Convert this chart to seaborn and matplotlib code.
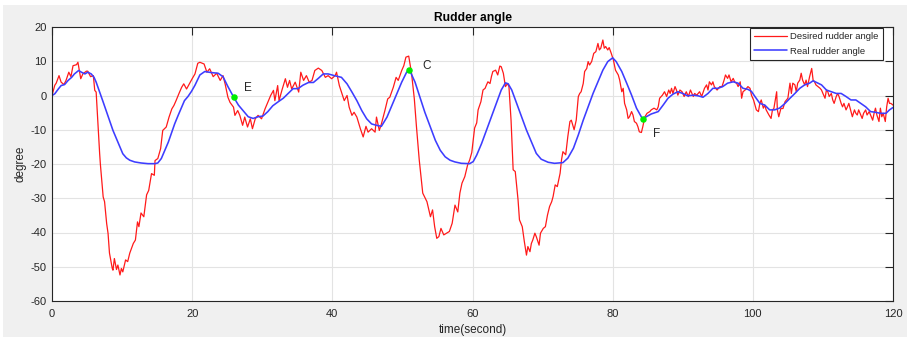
import matplotlib
matplotlib.use("Agg")
import matplotlib.pyplot as plt
from matplotlib.patches import Rectangle
import seaborn as sns
import pandas as pd

# desired rudder angle (red, noisy)
t_desired = [0, 0.4, 0.6, 1.0, 1.3, 1.7, 2.0, 2.4, 2.7, 3.0, 3.5, 3.7, 4.1, 4.4, 4.9, 5.1, 5.5, 5.9, 6.1, 6.3,
             6.6, 6.8, 6.9, 7.3, 7.5, 7.8, 8.0, 8.2, 8.6, 8.7, 8.9, 9.2, 9.4, 9.7, 9.9, 10.1, 10.5, 10.8, 11.1, 11.6,
             11.9, 12.2, 12.4, 12.7, 13.1, 13.5, 13.8, 14.2, 14.6, 14.7, 15.1, 15.5, 15.8, 16.3, 16.7, 17.1, 17.4, 17.7, 18.1, 18.5,
             18.8, 19.2, 19.6, 20.0, 20.4, 20.8, 21.1, 21.7, 22.1, 22.5, 23.0, 23.5, 24.0, 24.4, 24.7, 25.1, 25.4, 25.9, 26.1, 26.5,
             26.8, 27.2, 27.5, 27.9, 28.3, 28.6, 29.0, 29.4, 29.9, 30.4, 30.9, 31.2, 31.6, 31.8, 32.2, 32.4, 32.8, 33.3, 33.6, 33.9,
             34.2, 34.7, 35.2, 35.5, 35.9, 36.3, 36.7, 37.1, 37.5, 38.0, 38.5, 39.0, 39.4, 39.9, 40.4, 40.6, 41.0, 41.3, 41.7, 42.1,
             42.4, 42.8, 43.1, 43.5, 44.0, 44.4, 44.8, 45.1, 45.6, 46.1, 46.3, 46.7, 47.0, 47.5, 47.9, 48.2, 48.7, 49.1, 49.4, 49.9,
             50.2, 50.5, 50.9, 51.3, 51.7, 52.0, 52.4, 52.9, 53.5, 54.0, 54.3, 54.6, 54.9, 55.2, 55.5, 55.9, 56.3, 56.7, 57.1, 57.5,
             57.9, 58.2, 58.5, 58.9, 59.3, 59.6, 59.9, 60.1, 60.3, 60.6, 60.8, 61.2, 61.5, 61.8, 62.0, 62.2, 62.5, 62.7, 62.9, 63.3,
             63.6, 63.9, 64.1, 64.4, 64.7, 65.0, 65.2, 65.5, 65.8, 66.1, 66.5, 66.7, 67.1, 67.4, 67.7, 67.9, 68.2, 68.4, 68.6, 68.9,
             69.1, 69.5, 69.7, 70.1, 70.4, 70.7, 71.0, 71.3, 71.5, 71.8, 72.1, 72.5, 72.7, 72.9, 73.3, 73.6, 73.9, 74.1, 74.5, 74.8,
             75.1, 75.3, 75.5, 75.8, 76.0, 76.3, 76.5, 76.7, 77.0, 77.3, 77.6, 77.9, 78.1, 78.3, 78.6, 78.8, 79.0, 79.3, 79.5, 79.8,
             80.1, 80.4, 80.8, 81.0, 81.3, 81.5, 81.7, 82.0, 82.2, 82.4, 82.7, 82.9, 83.1, 83.4, 83.6, 83.8, 84.1, 84.3, 84.5, 84.6,
             84.9, 85.3, 85.5, 85.9, 86.3, 86.5, 86.7, 87.1, 87.4, 87.7, 88.0, 88.2, 88.4, 88.6, 88.9, 89.1, 89.3, 89.6, 89.9, 90.2,
             90.5, 90.8, 91.1, 91.5, 91.7, 92.0, 92.4, 92.7, 93.1, 93.4, 93.6, 93.8, 94.1, 94.3, 94.5, 94.9, 95.3, 95.6, 95.9, 96.1,
             96.4, 96.6, 96.9, 97.2, 97.4, 97.7, 97.9, 98.2, 98.4, 98.6, 98.9, 99.3, 99.6, 99.8, 100.1, 100.3, 100.5, 100.8, 101.0, 101.2,
             101.5, 101.7, 101.9, 102.3, 102.6, 102.8, 103.0, 103.4, 103.5, 103.7, 104.0, 104.3, 104.6, 104.8, 105.0, 105.3, 105.5, 105.7, 106.0, 106.2,
             106.4, 106.7, 106.9, 107.1, 107.4, 107.6, 107.8, 108.1, 108.4, 108.6, 108.8, 109.0, 109.3, 109.6, 109.8, 110.0, 110.3, 110.5, 110.7, 110.9,
             111.2, 111.4, 111.6, 111.9, 112.1, 112.3, 112.6, 112.8, 113.0, 113.3, 113.5, 113.7, 114.0, 114.2, 114.5, 114.7, 114.9, 115.1, 115.4, 115.6,
             115.8, 116.1, 116.3, 116.6, 116.8, 117.1, 117.3, 117.5, 117.7, 118.0, 118.2, 118.4, 118.6, 118.9, 119.1, 119.3, 119.5, 119.7, 120.0]
v_desired = [0, 3, 3.6, 5.8, 3.9, 3.2, 4.4, 6.8, 5.5, 8.7, 9.0, 9.7, 4.9, 6.3, 7.1, 7.1, 5.5, 5.8, 1.5, 1.0,
             -10, -17, -20, -29.6, -31, -37.4, -40.3, -46, -50.5, -51, -47.6, -50.8, -49.5, -52.4, -50.5, -51.5, -48, -48.5, -46, -43.2,
             -42.2, -36.9, -38.3, -34.3, -35.4, -29, -27.7, -22.8, -23.3, -19, -18.4, -15.5, -10.2, -9.2, -6.3, -3.9, -2.9, -1.5, 0.5, 2.4,
             3.4, 1.9, 3.4, 4.9, 6.3, 9.4, 9.7, 9.2, 6.8, 7.8, 5.5, 6.5, 4.4, 5.8, 3.4, -0.5, -2, -3.4, -5.8, -4.4,
             -5.8, -8.7, -6.3, -9.2, -6.8, -9.7, -6.8, -5.8, -6.8, -3.9, -1.5, 0, 1.5, -1.5, 2.9, -1.5, 1.5, 4.9, 2.4, 4.4,
             1.9, 3.9, 1.0, 6.8, 4.4, 5.8, 3.9, 4.4, 7.3, 8.0, 7.3, 5.3, 5.8, 4.9, 5.8, 6.8, 2.9, 1.0, -1.5, 0,
             -3.4, -5.8, -4.9, -6.3, -9.7, -12.1, -9.0, -10.7, -9.7, -10.7, -6.3, -10.2, -8.3, -4.4, -1.0, -0.5, 2.4, 5.3, 4.4, 7.3,
             8.7, 11.2, 11.5, 6.5, -1, -9, -18.8, -28.5, -31, -35.4, -33.4, -38.3, -41.7, -41.2, -38.8, -40.7, -40.2, -39.7, -37.3, -32,
             -34, -28.5, -25.6, -23.7, -20.3, -18.8, -16.6, -13, -9.5, -8, -4.2, -1.8, 1.6, 2.1, 3.1, 4.0, 3.5, 5.5, 7.0, 7.4,
             6.0, 8.6, 8.4, 6.5, 2.6, 3.5, 2.6, -7.2, -21.7, -22.2, -30.5, -36.3, -38.3, -42.7, -46.6, -44.1, -45.6, -43.2, -42.2, -40.2,
             -41.2, -43.7, -40.2, -38.8, -38.3, -34.9, -32.4, -31, -29.5, -26.1, -26.6, -22.7, -18.8, -16.4, -17.3, -12, -7.6, -7.2, -10, -7.2,
             -0.3, 0.6, 1.1, 3.5, 7, 7.9, 9.9, 8.9, 9.9, 12.3, 12.8, 15.2, 13.3, 13.8, 16.2, 13.8, 14.3, 13.3, 14.0, 12.3,
             10.4, 7.4, 6.0, 4.5, 1.1, 2.1, -2.3, -4.2, -6.7, -6.2, -4.7, -5.7, -7.6, -8.1, -9.1, -10.6, -10.8, -9.1, -7.2, -6.2,
             -5.2, -4.7, -4.2, -3.7, -4.2, -3.3, -0.8, 0.1, 1.1, -0.3, 1.6, 0.6, 2.1, 0.6, 2.6, 1.6, 0.1, 1.6, 1.1, -0.3,
             1.1, -0.3, 1.6, -0.3, 0.6, 0.1, 1.1, -0.3, 2.1, 3.1, 1.6, 4.0, 3.1, 4.0, 2.6, 1.6, 2.6, 2.6, 4.5, 6.0,
             5.0, 6.0, 4.0, 5.0, 4.0, 3.5, 2.6, 4.0, -0.8, 1.1, 1.6, 2.6, 2.1, 0.1, -1.3, -2.8, -4.2, -4.7, -2.3, -1.3,
             -3.7, -2.8, -4.2, -5.7, -6.7, -4.2, -3.8, 1.1, -4.2, -6.2, -3.8, -3.8, -1.8, -1.3, -0.8, 3.6, 0.6, 3.6, 3.1, 1.1,
             3.6, 4.5, 6.5, 4.5, 3.1, 4.5, 2.6, 5.5, 7.9, 4.5, 4.0, 3.1, 2.6, 2.1, 1.6, 0.6, -0.8, 1.6, 1.1, -0.3,
             0.6, -1.3, -2.3, -0.3, 0.6, -0.3, -2.3, -3.3, -2.3, -4.2, -3.3, -2.3, -4.7, -6.2, -4.2, -5.2, -5.7, -4.2, -5.7, -6.7,
             -5.2, -4.2, -5.7, -4.7, -5.7, -7.2, -5.2, -3.7, -5.7, -7.6, -3.7, -6.2, -5.2, -7.6, -3.3, -0.8, -2.3, -2.3, -2.8]

# real rudder angle (blue, smooth)
t_real = [0, 0.4, 0.9, 1.3, 1.8, 2.3, 2.8, 3.2, 3.8, 4.2, 4.7, 5.1, 5.6, 6.0, 6.3, 6.8, 7.3, 7.8, 8.2, 8.7,
          9.2, 9.7, 10.1, 10.6, 11.1, 11.8, 12.7, 13.7, 14.7, 15.1, 15.6, 16.1, 16.6, 17.0, 17.5, 18.0, 18.5, 18.9, 19.4, 19.9,
          20.4, 21.1, 21.8, 22.7, 23.7, 24.4, 25.1, 25.9, 26.6, 27.3, 28.0, 28.7, 29.4, 30.1, 30.8, 31.5, 32.3, 33.0, 33.7, 34.4,
          35.1, 35.8, 36.6, 37.3, 38.0, 38.7, 39.4, 40.3, 41.3, 42.1, 42.8, 43.5, 44.2, 44.9, 45.6, 46.3, 47.0, 47.8, 48.5, 49.2,
          49.9, 50.6, 51.0, 51.8, 52.5, 53.2, 54.0, 54.7, 55.4, 56.1, 56.8, 57.5, 58.4, 59.6, 60.1, 60.6, 61.3, 62.0, 62.7, 63.4,
          64.1, 64.7, 65.1, 65.6, 66.3, 67.0, 67.7, 68.4, 69.1, 69.8, 70.8, 71.7, 72.9, 73.6, 74.4, 75.1, 75.8, 76.5, 77.2, 77.9,
          78.6, 79.3, 80.0, 80.5, 81.3, 82.0, 82.7, 83.4, 84.3, 84.8, 85.5, 86.5, 87.2, 87.9, 88.6, 89.3, 90.0, 90.7, 91.5, 92.2,
          92.9, 93.6, 94.3, 95.0, 95.7, 96.4, 97.2, 97.9, 98.6, 99.3, 99.8, 100.3, 101.0, 101.7, 102.4, 103.1, 103.8, 104.6, 105.3, 106.0,
          106.7, 107.4, 108.1, 108.6, 109.1, 109.8, 110.5, 111.2, 111.9, 112.6, 113.3, 114.0, 114.7, 115.4, 116.1, 116.8, 117.5, 118.2, 119.0, 119.5,
          120.0]
v_real = [0, 0.5, 1.9, 2.9, 3.2, 4.4, 5.3, 6.3, 7.3, 6.8, 6.3, 6.8, 6.3, 5.3, 3.9, 1.0, -1.9, -4.9, -7.3, -10.2,
          -12.6, -15, -17, -18.2, -18.9, -19.4, -19.7, -19.9, -19.9, -19.7, -18.4, -16, -13.6, -11.2, -8.3, -5.8, -3.4, -1.5, -0.3, 1.2,
          3.0, 6.0, 7.0, 6.7, 6.5, 5.5, 2.6, -0.4, -2.8, -4.5, -6.2, -6.7, -6.2, -6.0, -4.7, -3.0, -1.8, -0.8, 0.6, 2.0,
          2.0, 3.0, 3.8, 3.8, 5.0, 6.3, 6.3, 5.8, 5.3, 3.4, 1.0, -1.5, -4.4, -6.8, -8.3, -8.7, -9.0, -6.3, -2.9, 0.5,
          3.9, 6.8, 7.5, 3.9, -0.5, -4.9, -9.3, -13.1, -16.0, -17.9, -18.9, -19.4, -19.8, -19.9, -19.3, -17.4, -14.0, -10.1, -6.2, -2.3,
          1.6, 3.7, 3.4, 1.6, -2.3, -6.2, -10.1, -13.5, -16.9, -18.6, -19.5, -19.8, -19.6, -18.3, -15.4, -11.5, -7.2, -3.3, 0.6, 4.0,
          7.4, 9.9, 11.0, 9.9, 7.0, 3.6, 0.1, -3.7, -7.0, -6.2, -5.4, -4.7, -2.8, -0.8, 0.4, 1.1, 0.6, -0.1, 0.1, -0.1,
          -0.5, 0.6, 2.1, 2.1, 2.6, 3.6, 4.0, 3.6, 2.1, 1.8, 1.2, -0.3, -2.3, -2.8, -4.2, -4.2, -3.7, -2.3, -0.8, 0.6,
          2.1, 3.1, 3.6, 4.3, 3.8, 3.1, 1.6, 1.1, 0.6, 0.6, -0.3, -1.3, -1.3, -2.3, -3.3, -4.7, -4.9, -5.2, -5.2, -4.2,
          -3.5]

# marked points
point_labels = ["E", "C", "F"]
point_t = [25.9, 51.0, 84.3]
point_v = [-0.4, 7.5, -7.0]
label_t = [27.9, 53.5, 86.3]
label_v = [2.2, 8.7, -11.3]

df_desired = pd.DataFrame({"t": t_desired, "v": v_desired})
df_real = pd.DataFrame({"t": t_real, "v": v_real})

sns.set_theme(style="whitegrid", rc={"grid.color": "#e3e3e3", "grid.linewidth": 0.8,
                                     "axes.edgecolor": "#262626", "axes.linewidth": 0.8})
plt.rcParams["font.family"] = ["Liberation Sans", "DejaVu Sans"]
plt.rcParams["axes.unicode_minus"] = False

fig = plt.figure(figsize=(9.07, 3.38), dpi=100, facecolor="white")
# grey figure panel with thin white margin, like the MATLAB window
fig.patches.append(Rectangle((3 / 907, 1 / 338), 1, 332 / 338, transform=fig.transFigure,
                             facecolor="#f0f0f0", edgecolor="none", zorder=-10))
ax = fig.add_axes([52 / 907, 1 - 301 / 338, 841 / 907, 274 / 338])
ax.set_facecolor("white")

sns.lineplot(data=df_desired, x="t", y="v", color="#ff1a1a", lw=0.9, ax=ax,
             estimator=None, label="Desired rudder angle")
sns.lineplot(data=df_real, x="t", y="v", color="#3d3dff", lw=1.15, ax=ax,
             estimator=None, label="Real rudder angle")

ax.scatter(point_t, point_v, s=22, color="#00ee00", zorder=5, linewidths=0)
for lab, lx, ly in zip(point_labels, label_t, label_v):
    ax.text(lx, ly, lab, fontsize=8.5, color="#262626", ha="center", va="center")

ax.set_xlim(0, 120)
ax.set_ylim(-60, 20)
ax.set_xticks(range(0, 121, 20))
ax.set_yticks(range(-60, 21, 10))
ax.tick_params(direction="in", length=6, width=0.8, top=True, right=True,
               labelsize=8, colors="#262626")
ax.tick_params(axis="x", pad=6)
ax.tick_params(axis="y", pad=4)
for s in ax.spines.values():
    s.set_visible(True)

ax.set_title("Rudder angle", fontsize=8.7, fontweight="bold", color="black", pad=4)
ax.set_xlabel("time(second)", fontsize=8.5, color="#262626", labelpad=3)
ax.set_ylabel("degree", fontsize=8.5, color="#262626", labelpad=3)

leg = ax.legend(loc="upper right", bbox_to_anchor=(0.988, 0.996), borderaxespad=0,
                fontsize=6.8, fancybox=False, framealpha=1, edgecolor="#262626",
                handlelength=3.5, handletextpad=0.35, labelspacing=0.55, borderpad=0.45)
leg.get_frame().set_linewidth(0.8)

fig.savefig("out.png", dpi=100, facecolor=fig.get_facecolor())
